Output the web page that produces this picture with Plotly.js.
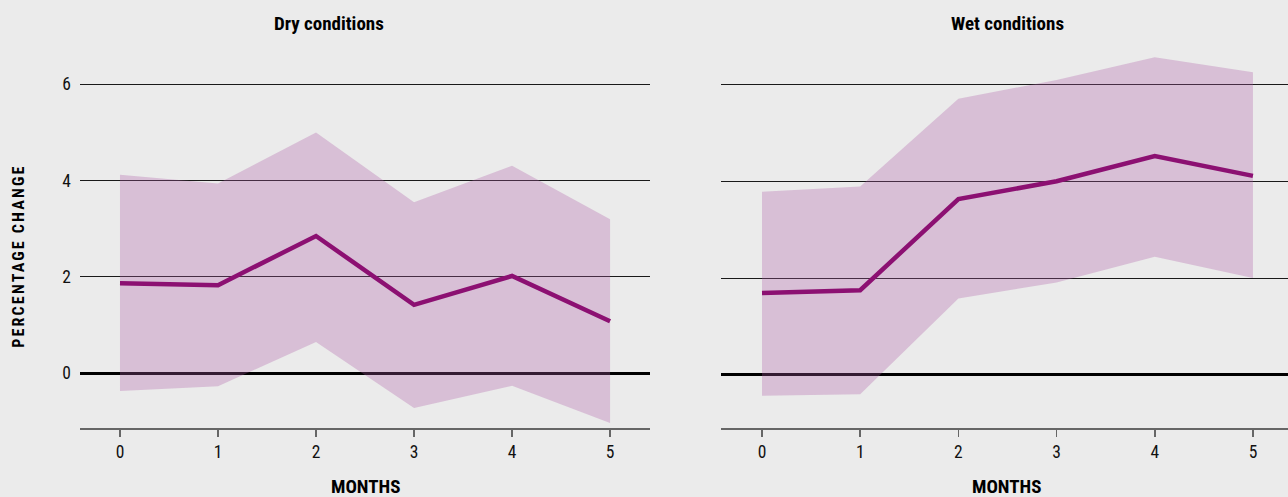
<!DOCTYPE html>
<html>
<head>
<meta charset="utf-8">
<script src="https://cdn.plot.ly/plotly-3.0.1.min.js"></script>
<style>
html,body{margin:0;padding:0;background:#ebebeb;}
#chart{width:1288px;height:497px;}
g.annotation[data-index="4"] text{letter-spacing:2.2px;}
</style>
</head>
<body>
<div id="chart"></div>
<script>
const months = [0, 1, 2, 3, 4, 5];
const monthTicks = ['0', '1', '2', '3', '4', '5'];
const yTicks = [0, 2, 4, 6];

const dryMean  = [1.87, 1.83, 2.85, 1.42, 2.02, 1.08];
const dryUpper = [4.12, 3.94, 5.00, 3.55, 4.31, 3.20];
const dryLower = [-0.37, -0.27, 0.65, -0.72, -0.26, -1.03];

const wetMean  = [1.69, 1.75, 3.63, 4.00, 4.52, 4.11];
const wetUpper = [3.78, 3.89, 5.70, 6.09, 6.56, 6.25];
const wetLower = [-0.43, -0.40, 1.58, 1.91, 2.44, 2.00];

const FONT = '"Roboto Condensed", "Open Sans Condensed", "DejaVu Sans Condensed", sans-serif';
const BAND = 'rgba(172,88,165,0.3)';
const LINE = '#8c1072';

function panel(xa, ya, mean, upper, lower) {
  return [
    {x: months, y: lower, xaxis: xa, yaxis: ya, mode: 'lines', line: {width: 0, color: BAND}, hoverinfo: 'skip', showlegend: false},
    {x: months, y: upper, xaxis: xa, yaxis: ya, mode: 'lines', line: {width: 0, color: BAND}, fill: 'tonexty', fillcolor: BAND, hoverinfo: 'skip', showlegend: false},
    {x: months, y: mean, xaxis: xa, yaxis: ya, mode: 'lines', line: {width: 4.5, color: LINE}, showlegend: false}
  ];
}

const data = [].concat(
  panel('x', 'y', dryMean, dryUpper, dryLower),
  panel('x2', 'y2', wetMean, wetUpper, wetLower)
);

const xBase = {
  tickvals: months, ticktext: monthTicks,
  showline: true, linecolor: '#666', linewidth: 2,
  ticks: 'outside', ticklen: 7, tickcolor: '#666', tickwidth: 1.5,
  showgrid: false, zeroline: false,
  tickfont: {family: FONT, size: 17.5, color: '#111'},
  fixedrange: true
};
const yBase = {
  tickvals: yTicks,
  showgrid: true, gridcolor: '#1a1a1a', gridwidth: 1,
  zeroline: true, zerolinecolor: '#000', zerolinewidth: 2.5,
  showline: false, ticks: '',
  tickfont: {family: FONT, size: 17.5, color: '#111'},
  fixedrange: true
};

const TF = {family: FONT, size: 19, color: '#000', weight: 700};

const layout = {
  width: 1288, height: 497,
  margin: {l: 80, r: 0, t: 40, b: 69},
  paper_bgcolor: '#ebebeb', plot_bgcolor: '#ebebeb',
  font: {family: FONT, color: '#111'},
  xaxis: Object.assign({}, xBase, {domain: [0, 0.4719], range: [-0.408, 5.408], anchor: 'y'}),
  xaxis2: Object.assign({}, xBase, {domain: [0.5306, 1], range: [-0.418, 5.357], anchor: 'y2'}),
  yaxis: Object.assign({}, yBase, {anchor: 'x', range: [-1.136, 6.92], ticklabelstandoff: 8}),
  yaxis2: Object.assign({}, yBase, {anchor: 'x2', range: [-1.094, 6.914], showticklabels: false, zerolinewidth: 3}),
  annotations: [
    {text: 'Dry conditions', xref: 'paper', yref: 'paper', x: 0.206, y: 1.0438, xanchor: 'center', yanchor: 'middle', showarrow: false, font: TF},
    {text: 'Wet conditions', xref: 'paper', yref: 'paper', x: 0.768, y: 1.0438, xanchor: 'center', yanchor: 'middle', showarrow: false, font: TF},
    {text: 'MONTHS', xref: 'paper', yref: 'paper', x: 0.236, y: -0.152, xanchor: 'center', yanchor: 'middle', showarrow: false, font: TF},
    {text: 'MONTHS', xref: 'paper', yref: 'paper', x: 0.7666, y: -0.152, xanchor: 'center', yanchor: 'middle', showarrow: false, font: TF},
    {text: 'PERCENTAGE CHANGE', xref: 'paper', yref: 'paper', x: -0.0513, y: 0.443, xanchor: 'center', yanchor: 'middle', textangle: -90, showarrow: false, font: Object.assign({}, TF, {size: 16})}
  ]
};

Plotly.newPlot('chart', data, layout, {displayModeBar: false, staticPlot: true});
</script>
</body>
</html>
